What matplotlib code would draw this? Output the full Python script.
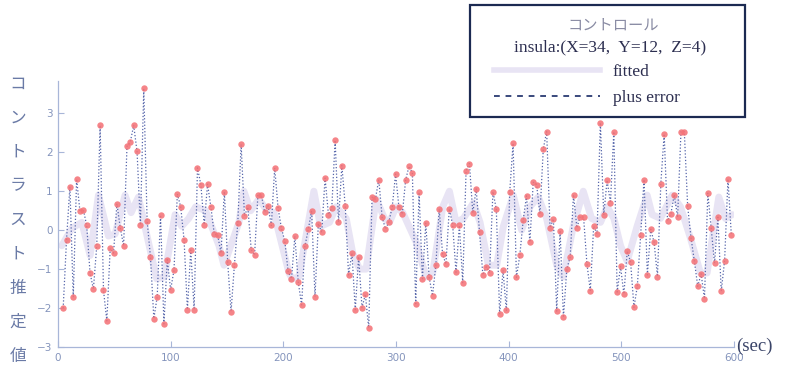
import numpy as np
import matplotlib
matplotlib.use("Agg")
import matplotlib.pyplot as plt
from matplotlib.lines import Line2D
from matplotlib.patches import Rectangle

# ---- data -------------------------------------------------------------
plus_error = [
    -2.00, -0.24, 1.12, -1.71, 1.31, 0.48, 0.53, 0.12, -1.10, -1.51,
    -0.40, 2.69, -1.54, -2.33, -0.47, -0.59, 0.68, 0.06, -0.40, 2.15,
    2.27, 2.69, 2.02, 0.13, 3.64, 0.24, -0.69, -2.27, -1.71, 0.39,
    -2.41, -0.76, -1.53, -1.03, 0.93, 0.60, -0.24, -2.04, -0.51, -2.04,
    1.60, 1.17, 0.14, 1.18, 0.59, -0.10, -0.12, -0.59, 0.99, -0.83,
    -2.09, -0.89, 0.18, 2.20, 0.37, 0.59, -0.50, -0.64, 0.91, 0.91,
    0.47, 0.63, 0.12, 1.60, 0.57, 0.05, -0.28, -1.06, -1.25, -0.15,
    -1.32, -1.92, -0.41, 0.02, 0.50, -1.71, 0.17, -0.06, 1.34, 0.40,
    0.57, 2.31, 0.21, 1.66, 0.63, -1.15, -0.59, -2.04, -0.68, -1.99,
    -1.65, -2.51, 0.85, 0.80, 1.30, 0.33, 0.03, 0.21, 0.59, 1.44,
    0.59, 0.41, 1.29, 1.64, 1.47, -1.89, 0.97, -1.25, 0.18, -1.21,
    -1.68, -0.89, 0.54, -0.62, -0.87, 0.55, 0.14, -1.08, 0.12, -1.35,
    1.53, 1.71, 0.44, 1.06, -0.05, -1.15, -0.94, -1.10, 0.99, 0.54,
    -2.16, -1.03, -2.06, 0.99, 2.23, -1.21, -0.65, 0.25, 0.88, -0.31,
    1.23, 1.17, 0.41, 2.09, 2.53, 0.06, 0.29, -2.08, -0.01, -2.24,
    -1.00, -0.69, 0.91, 0.06, 0.35, 0.33, -0.87, -1.55, 0.10,
    -0.09, 2.76, 0.39, 1.28, 0.70, 2.53, -1.59, -0.93, -1.64, -0.54,
    -0.82, -1.98, -1.44, -0.12, 1.30, -1.15, 0.02, -0.31, -1.19, 1.19,
    2.47, 0.24, 0.42, 0.91, 0.33, 2.53, 2.53, 0.61, -0.20, -0.80,
    -1.44, -1.12, -1.76, 0.95, 0.06, -0.85, 0.33, -1.57, -0.78, 1.31,
    -0.12,
]
t_scan = np.arange(len(plus_error)) * 2.98 + 4.6   # scan times (sec)

fit_t = [3.4, 12.3, 21.1, 28.5, 35.9, 44.8, 50.7, 59.5, 64.9, 71.4, 80.2, 87.6,
         94.4, 103.9, 109.8, 116.0, 122.2, 131.0, 142.9, 147.3, 160.6, 165.0,
         171.0, 178.4, 184.2, 191.6, 205.0, 207.9, 213.8, 227.1, 233.0,
         241.0, 246.9, 255.8, 261.7, 267.6, 273.5, 282.4, 289.8, 294.2, 300.1,
         306.0, 317.8, 326.7, 332.6, 341.5, 347.4, 353.3,
         359.8, 368.7, 374.6, 382.0, 389.4, 395.3, 404.1, 411.5, 418.9, 426.3,
         433.7, 442.6, 448.5, 457.3, 466.2, 473.6,
         481.5, 487.5, 493.4, 499.3, 505.2, 514.0, 522.9, 527.3, 534.7, 545.1,
         552.5, 561.3, 570.2, 576.1, 586.5, 592.4, 598.3]
fitted = [-0.4, 0.05, 0.2, -0.65, 0.9, -0.15, -0.1, 0.9, 0.45, 0.85, -0.3, -1.25,
          -1.2, 0.4, 0.1, 0.3, 0.6, 0.5, -0.4, -0.9, 0.2, 1.0,
          0.5, 0.8, 0.55, 0.45, -1.1, -1.25, -1.2, 1.0, 0.1,
          0.2, 0.6, 0.3, -0.6, -1.0, -1.0, 0.8, 0.3, 0.2, 0.6,
          0.45, -0.3, -1.2, -1.1, 0.6, 1.0, 0.2,
          0.3, 0.7, 0.2, -0.9, -0.9, 0.1, 0.9, 0.0, 0.6, 0.85,
          0.3, -0.9, -1.2, 0.1, 1.0, 0.3,
          0.2, 0.6, 0.3, -0.4, -0.8, 0.1, 0.9, 0.4, 0.3, 0.9,
          0.6, -0.2, -1.1, -1.1, 0.85, 0.3, 0.4]

x_ticks = [0, 100, 200, 300, 400, 500, 600]
y_ticks = [-3, -2, -1, 0, 1, 2, 3]
ylabel_text = "コントラスト推定値"
legend_title1 = "コントロール"
legend_title2 = "insula:(X=34,  Y=12,  Z=4)"
legend_labels = ["fitted", "plus error"]

# ---- figure -----------------------------------------------------------
W, H = 785, 367
fig = plt.figure(figsize=(W / 100, H / 100), dpi=100)
ax = fig.add_axes([58 / W, 1 - 347 / H, (734 - 58) / W, (347 - 81) / H])

fit_col = '#e8e4f4'
dot_col = '#5565aa'
red_col = '#f47378'

ax.plot(fit_t, fitted, color=fit_col, lw=5, solid_capstyle='round',
        solid_joinstyle='round', zorder=1)
ax.plot(t_scan, plus_error, color=dot_col, lw=0.9, ls=(0, (1, 1.6)), zorder=2)
ax.plot(t_scan, plus_error, 'o', color=red_col, ms=4.6, mec='none',
        alpha=0.88, zorder=3)

ax.set_xlim(0, 600)
ax.set_ylim(-3, 3.83)
ax.set_xticks(x_ticks)
ax.set_yticks(y_ticks)
for s in ['top', 'right']:
    ax.spines[s].set_visible(False)
for s in ['left', 'bottom']:
    ax.spines[s].set_color('#a8b6d8')
    ax.spines[s].set_linewidth(0.9)
ax.tick_params(direction='in', length=4, width=0.8, color='#a8b6d8',
               labelsize=7.5, labelcolor='#8494bc', pad=4)

# vertical Japanese y-label
for i, ch in enumerate(ylabel_text):
    fig.text(18 / W, 1 - (84 + 34.0 * i) / H, ch, ha='center', va='center',
             fontsize=12, color='#6a7aa6', family=['Noto Sans CJK JP', 'DejaVu Sans'])

fig.text(736 / W, 1 - 346 / H, '(sec)', ha='left', va='center',
         fontsize=13.5, color='#3a4468', family='Liberation Serif')

# legend box
fig.patches.append(Rectangle((470 / W, 1 - 117 / H), 275 / W, 112 / H,
                             transform=fig.transFigure, fill=True, facecolor='white',
                             edgecolor='#1c2a52', lw=1.6, zorder=5))
fig.text(613 / W, 1 - 25 / H, legend_title1, ha='center', va='center',
         fontsize=11, color='#8a8ca4', family=['Noto Sans CJK JP', 'DejaVu Sans'],
         zorder=6)
fig.text(610 / W, 1 - 47 / H, legend_title2, ha='center', va='center',
         fontsize=12.5, color='#2c2e50', family='Liberation Serif', zorder=6)
handles = [Line2D([], [], color=fit_col, lw=4),
           Line2D([], [], color='#2a3a72', lw=1.3, ls=(0, (3.2, 3.2)))]
leg = fig.legend(handles, legend_labels, loc='upper left',
                 bbox_to_anchor=(494 / W, 1 - 64 / H), bbox_transform=fig.transFigure,
                 frameon=False, borderpad=0, borderaxespad=0,
                 handlelength=6.1, handletextpad=0.75, labelspacing=0.58,
                 prop={'family': 'Liberation Serif', 'size': 12.5},
                 labelcolor='#2c2e50')
leg.set_zorder(7)

fig.savefig('out.png', dpi=100)
